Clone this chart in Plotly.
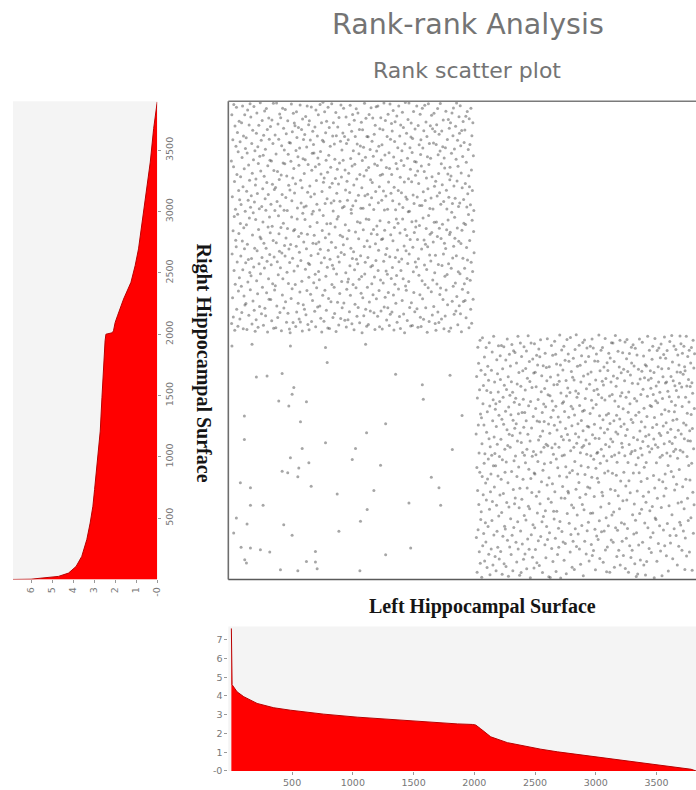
import plotly.graph_objects as go

# ---------------------------------------------------------------------------
# Sorted surface values, left hemisphere (bottom panel): rank -> value
left_rank = [0, 1, 6, 47, 102, 212, 349, 486, 761, 1036, 1310, 1585, 1860,
             1984, 2011, 2052, 2080, 2135, 2272, 2410, 2547, 2684, 2959,
             3234, 3509, 3784, 3825]
left_value = [7.6, 5.3, 4.6, 4.22, 3.96, 3.6, 3.37, 3.24, 3.03, 2.87, 2.74,
              2.62, 2.51, 2.48, 2.45, 2.25, 2.09, 1.82, 1.51, 1.32, 1.16,
              1.02, 0.79, 0.57, 0.36, 0.09, 0.0]

# Sorted surface values, right hemisphere (left panel): rank -> value
right_rank = [0, 2, 10, 25, 52, 106, 188, 325, 460, 597, 733, 869, 1006,
              1210, 1482, 1755, 1946, 2000, 2012, 2028, 2096, 2150, 2287,
              2423, 2559, 2696, 2832, 2968, 3132, 3404, 3677, 3868, 3895]
right_value = [6.9, 6.0, 5.57, 4.7, 4.22, 3.86, 3.59, 3.35, 3.19, 3.06,
               2.98, 2.90, 2.84, 2.71, 2.63, 2.55, 2.48, 2.44, 2.14, 2.08,
               2.0, 1.89, 1.6, 1.25, 1.05, 0.89, 0.78, 0.65, 0.54, 0.33,
               0.17, 0.02, 0.0]

# Rank scatter: right-surface rank of vertices whose left rank is low
upper_right_rank = [
    3412, 2087, 3790, 2655, 3121, 2298, 3587, 2843, 2140, 3366, 3874, 2519, 2961, 3245, 2032, 3698, 2407, 3019, 2766, 3533,
    2714, 3851, 2203, 3302, 2589, 3645, 2978, 2066, 3489, 2352, 3173, 2821, 3736, 2460, 3097, 2125, 3569, 2903, 3284, 2638,
    3058, 2391, 3725, 2177, 3441, 2760, 3862, 2525, 3203, 2044, 3617, 2869, 2312, 3350, 2697, 3789, 2238, 3002, 3514, 2583,
    2251, 3603, 2892, 3167, 2039, 3478, 2734, 3829, 2426, 3092, 2610, 3381, 2155, 3707, 2947, 3255, 2503, 3880, 2362, 3036,
    3771, 2477, 3129, 2618, 3556, 2084, 3313, 2809, 3664, 2271, 2990, 3422, 2549, 3858, 2195, 3079, 2701, 3497, 2025, 3218,
    2936, 3267, 2118, 3640, 2437, 3805, 2680, 3148, 2331, 3529, 2057, 3393, 2855, 3705, 2574, 3023, 2227, 3451, 2792, 3887,
    2493, 3332, 2779, 3581, 2168, 3042, 2625, 3744, 2384, 3186, 2915, 3460, 2073, 3623, 2743, 3289, 2540, 3821, 2212, 3105,
    3508, 2150, 3011, 2702, 3840, 2338, 3237, 2596, 3669, 2019, 3375, 2874, 3139, 2453, 3763, 2285, 3591, 2956, 2651, 3419,
    2827, 3694, 2283, 3061, 2566, 3413, 2109, 3748, 2881, 3224, 2412, 3556, 2764, 3883, 2048, 3336, 2629, 3180, 2360, 3010,
    3624, 2396, 3197, 2053, 3470, 2747, 3886, 2231, 3083, 2592, 3327, 2136, 3715, 2485, 2967, 3590, 2820, 3262, 2676, 3796,
    2177, 3046, 2543, 3766, 2870, 3299, 2029, 3537, 2663, 3140, 2319, 3843, 2452, 3397, 2905, 3680, 2213, 3011, 3503, 2723,
    3391, 2639, 3832, 2264, 3115, 2785, 3636, 2098, 3291, 2505, 3009, 2863, 3742, 2171, 3468, 2414, 3215, 2695, 3564, 2042,
    2586, 3177, 2012, 3559, 2732, 3410, 2291, 3877, 2956, 3088, 2370, 3651, 2620, 3274, 2096, 3802, 2843, 3351, 2515, 3723,
    3152, 2854, 3700, 2406, 3227, 2063, 3498, 2717, 3814, 2181, 3605, 2939, 3030, 2557, 3448, 2252, 3687, 2798, 3379, 2124,
    2669, 3518, 2344, 3870, 2099, 3256, 2601, 3071, 2824, 3669, 2432, 3195, 2027, 3755, 2987, 3431, 2241, 3589, 2753, 3037,
    3311, 2203, 3629, 2936, 3424, 2530, 3776, 2159, 3045, 2698, 3527, 2357, 3861, 2815, 3158, 2080, 3385, 2578, 3709, 2464,
    2037, 3742, 2568, 3209, 2879, 3584, 2326, 3121, 2642, 3853, 2104, 3338, 2981, 3476, 2275, 3655, 2742, 3002, 3547, 2419,
    3479, 2808, 3143, 2188, 3690, 2489, 3365, 2061, 3829, 2738, 3253, 2379, 3060, 2911, 3617, 2223, 3437, 2657, 3789, 2511,
    2752, 3387, 2444, 3013, 2230, 3873, 2694, 3491, 2130, 3306, 2582, 3725, 2018, 3164, 2847, 3583, 2318, 3892, 2968, 3240,
    3569, 2106, 3275, 2623, 3814, 2358, 3067, 2787, 3643, 2473, 3418, 2196, 3736, 2902, 3104, 2547, 3321, 2050, 3851, 2684,
    2292, 3459, 2818, 3686, 2046, 3198, 2612, 3533, 2903, 3362, 2265, 3071, 2751, 3880, 2405, 3232, 2563, 3617, 2137, 3006,
    3725, 2534, 3089, 2384, 3552, 2169, 3428, 2874, 3271, 2707, 3809, 2022, 3619, 2491, 3149, 2940, 3345, 2261, 3690, 2631,
    2960, 3226, 2075, 3767, 2589, 3396, 2332, 3084, 2807, 3573, 2129, 3869, 2666, 3283, 2430, 3503, 2215, 3032, 2795, 3641,
    3418, 2729, 3844, 2255, 3041, 2651, 3612, 2115, 3339, 2892, 3177, 2502, 3771, 2058, 3556, 2367, 3247, 2778, 3092, 2426,
    2118, 3586, 2450, 3312, 2846, 3710, 2183, 3155, 2558, 3868, 2318, 3434, 2701, 3018, 2987, 3655, 2085, 3371, 2617, 3793,
    3048, 2406, 3496, 2673, 3217, 2036, 3745, 2525, 3387, 2244, 3612, 2833, 3089, 2380, 3839, 2612, 3266, 2147, 3552, 2918,
    2574, 3804, 2217, 3133, 2778, 3471, 2448, 3669, 2093, 3302, 2910, 3536, 2640, 3028, 2334, 3728, 2471, 3194, 2013, 3416,
    3668, 2298, 3027, 2853, 3525, 2151, 3290, 2716, 3884, 2492, 3129, 2588, 3444, 2204, 3761, 2939, 3337, 2066, 3613, 2762,
    2383, 3141, 2626, 3610, 2079, 3359, 2935, 3792, 2262, 3055, 2713, 3507, 2190, 3259, 2551, 3847, 2820, 3114, 2411, 3573,
    3237, 2560, 3763, 2321, 3452, 2854, 3018, 2176, 3631, 2467, 3388, 2038, 3705, 2737, 3164, 2601, 3855, 2289, 3495, 2883,
    2814, 3376, 2146, 3862, 2520, 3073, 2685, 3533, 2357, 3202, 2061, 3676, 2925, 3296, 2442, 3765, 2190, 3420, 2773, 3093,
    3546, 2043, 3304, 2778, 3667, 2417, 3169, 2596, 3885, 2223, 3013, 2849, 3462, 2301, 3744, 2650, 3127, 2515, 3359, 2117,
    2699, 3612, 2489, 3020, 2215, 3795, 2341, 3241, 2914, 3480, 2071, 3352, 2632, 3877, 2162, 3590, 2812, 3149, 2455, 3718,
    3303, 2181, 3657, 2544, 3089, 2762, 3824, 2319, 3446, 2035, 3198, 2871, 3571, 2408, 3733, 2626, 3015, 2253, 3392, 2940,
    2480, 3779, 2097, 3349, 2687, 3520, 2906, 3172, 2368, 3861, 2591, 3063, 2144, 3617, 2825, 3280, 2047, 3706, 2519, 3416,
    3154, 2613, 3497, 2276, 3811, 2939, 3034, 2452, 3686, 2165, 3377, 2720, 3242, 2013, 3553, 2855, 3890, 2393, 3119, 2680,
    2358, 3640, 2805, 3101, 2111, 3435, 2577, 3752, 2999, 3268, 2431, 3885, 2654, 3003, 2219, 3520, 2772, 3346, 2068, 3608,
    3722, 2257, 3244, 2918, 3483, 2071, 3597, 2709, 3136, 2510, 3817, 2340, 3067, 2829, 3409, 2184, 3674, 2589, 3297, 2874,
    2923, 3405, 2548, 3861, 2207, 3119, 2773, 3332, 2057, 3702, 2615, 3229, 2482, 3546, 2887, 3050, 2321, 3794, 2139, 3465,
    3587, 2063, 3372, 2695, 3050, 2436, 3843, 2290, 3518, 2947, 3163, 2122, 3659, 2768, 3327, 2564, 3868, 2406, 3090, 2733,
    2216, 3731, 2862, 3275, 2527, 3612, 2016, 3447, 2714, 3186, 2379, 3879, 2968, 3384, 2103, 3555, 2647, 3026, 2815, 3701,
    3436, 2598, 3111, 2347, 3786, 2830, 3285, 2156, 3676, 2442, 3022, 2752, 3559, 2226, 3803, 2913, 3206, 2501, 3653, 2088,
    2645, 3248, 2033, 3548, 2916, 3708, 2409, 3128, 2797, 3840, 2182, 3463, 2568, 3311, 2095, 3630, 2865, 3153, 2324, 3495,
    3881, 2377, 3060, 2780, 3391, 2125, 3658, 2560, 3219, 2897, 3528, 2284, 3748, 2654, 3083, 2044, 3437, 2742, 3355, 2472,
    2148, 3521, 2699, 3819, 2360, 3175, 2853, 3022, 2487, 3589, 2240, 3307, 2931, 3752, 2574, 3118, 2024, 3679, 2813, 3260,
    3361, 2832, 3725, 2051, 3290, 2538, 3475, 2994, 3805, 2268, 3067, 2621, 3619, 2392, 3846, 2717, 3208, 2163, 3511, 2955,
    2783, 3110, 2418, 3696, 2189, 3428, 2641, 3886, 2307, 3250, 2866, 3583, 2077, 3369, 2510, 3041, 2758, 3773, 2233, 3639,
    3070, 2494, 3864, 2168, 3537, 2740, 3315, 2021, 3662, 2849, 3195, 2366, 3449, 2620, 3734, 2267, 3098, 2905, 3563, 2412,
    2539, 3666, 2276, 3229, 2894, 3778, 2135, 3402, 2707, 3037, 2454, 3817, 2606, 3145, 2341, 3506, 2977, 3292, 2052, 3758,
    3203, 2764, 3548, 2441, 3057, 2203, 3843, 2587, 3340, 2089, 3619, 2930, 3172, 2512, 3725, 2286, 3455, 2838, 3010, 2665,
]
upper_left_start, rank_step = 0, 2

# Right-surface rank of vertices whose left rank is high
lower_right_rank = [
    1187, 342, 1655, 913, 58, 1479, 726, 1893, 405, 1260, 1764, 611, 1032, 227, 1548, 874, 1951, 133, 1349, 489,
    1706, 552, 1318, 19, 1107, 839, 1972, 276, 1433, 690, 1581, 374, 1259, 947, 1815, 151, 1026, 1671, 463, 786,
    305, 1892, 648, 1201, 1541, 97, 1368, 820, 1739, 431, 982, 1624, 205, 1147, 1930, 572, 1415, 39, 1082, 715,
    1525, 861, 249, 1707, 1013, 480, 1856, 635, 1294, 118, 1465, 927, 1983, 362, 1162, 755, 1610, 1028, 187, 1389,
    928, 1433, 71, 1248, 605, 1791, 394, 1102, 1677, 263, 844, 1529, 1906, 517, 1339, 167, 1002, 1452, 688, 1824,
    1631, 228, 1144, 817, 1908, 546, 1307, 43, 976, 1719, 352, 1486, 701, 1265, 1897, 129, 1583, 433, 1061, 874,
    412, 1372, 1789, 106, 958, 1550, 627, 1220, 1961, 319, 1093, 788, 1653, 27, 1406, 592, 1185, 1836, 264, 1503,
    1078, 1740, 495, 1343, 203, 1612, 881, 1917, 360, 1174, 1526, 71, 1299, 734, 1865, 423, 968, 1445, 618, 1234,
    1851, 664, 1006, 1478, 303, 1269, 1766, 142, 839, 1595, 1130, 471, 1984, 248, 1352, 917, 1688, 585, 1427, 35,
    743, 1194, 1929, 395, 1576, 57, 1117, 1818, 655, 1362, 290, 1035, 1702, 818, 1470, 164, 1241, 1897, 521, 1013,
    1362, 207, 1545, 951, 1720, 486, 1294, 1863, 87, 1063, 746, 1642, 331, 1184, 1987, 598, 1416, 899, 246, 1777,
    576, 1615, 1130, 13, 1451, 823, 1928, 365, 1236, 709, 1565, 1004, 181, 1797, 447, 1330, 1043, 1684, 94, 868,
    1923, 422, 861, 1689, 244, 1395, 1018, 1571, 679, 1828, 136, 1292, 542, 1749, 963, 1467, 315, 1138, 1880, 716,
    113, 1286, 1817, 618, 1167, 1954, 350, 1040, 1530, 796, 1662, 471, 1361, 57, 1211, 890, 1742, 513, 1432, 1078,
    1289, 943, 1558, 284, 1845, 561, 1409, 178, 1103, 1729, 432, 1620, 771, 1963, 325, 1091, 1506, 659, 1267, 22,
    829, 1735, 380, 1192, 1499, 17, 1651, 954, 1323, 629, 1908, 253, 1074, 1455, 781, 1829, 146, 1381, 1021, 556,
    1587, 493, 1257, 1942, 716, 1104, 336, 1836, 1412, 65, 983, 1757, 557, 1219, 1590, 204, 912, 1668, 1326, 418,
    263, 1078, 1616, 844, 1993, 472, 1285, 1749, 12, 1521, 664, 1166, 1872, 392, 1008, 1437, 758, 1708, 305, 1139,
    1449, 1901, 157, 1015, 1369, 662, 1787, 293, 1231, 919, 1623, 47, 1496, 836, 1958, 539, 1182, 1561, 720, 1838,
    705, 1322, 1780, 459, 1136, 871, 1525, 223, 1974, 1049, 367, 1413, 1697, 608, 1254, 100, 889, 1650, 1393, 312,
    1804, 584, 1078, 1627, 82, 1342, 962, 1876, 414, 1188, 1538, 736, 1995, 268, 1110, 1486, 525, 1739, 860, 1270,
    370, 1517, 1161, 790, 1911, 248, 1418, 669, 1747, 1033, 125, 1610, 927, 1296, 1825, 441, 1079, 612, 1371, 1932,
    1213, 31, 1660, 1093, 569, 1380, 1953, 312, 856, 1475, 1776, 694, 1137, 208, 1556, 1022, 1887, 397, 1249, 754,
    1676, 915, 467, 1819, 1244, 150, 1107, 1592, 745, 1354, 1901, 541, 1008, 1693, 286, 1461, 833, 1962, 195, 1180,
    543, 1399, 1887, 236, 981, 1542, 677, 1266, 1781, 410, 1151, 79, 1627, 907, 1427, 1839, 354, 1029, 1552, 825,
    1037, 1779, 326, 1509, 792, 1994, 1149, 478, 1335, 170, 1702, 947, 1236, 590, 1869, 1063, 389, 1481, 712, 1616,
    1891, 682, 1303, 141, 1585, 1006, 1732, 395, 1196, 868, 1463, 1966, 241, 1101, 1640, 503, 1341, 62, 969, 1768,
    264, 1225, 1704, 884, 439, 1353, 1845, 619, 1082, 1497, 59, 1271, 1806, 736, 1145, 1610, 321, 1931, 1002, 525,
    1508, 866, 1123, 1928, 303, 1660, 550, 1294, 1778, 99, 1016, 1455, 726, 1990, 421, 1203, 1575, 849, 1340, 187,
    956, 1642, 401, 1187, 1862, 683, 1411, 238, 1034, 1733, 577, 1308, 1951, 117, 1496, 804, 1247, 1685, 462, 1110,
    1523, 311, 1078, 1849, 642, 1392, 196, 1715, 874, 1267, 452, 1620, 1008, 1936, 89, 1174, 763, 1486, 337, 1801,
    648, 1958, 1223, 415, 1697, 953, 1364, 59, 1529, 806, 1101, 1842, 276, 1433, 707, 1667, 1025, 180, 1305, 1893,
    1766, 1043, 238, 1601, 527, 1281, 1914, 868, 1157, 370, 1741, 616, 1476, 129, 1052, 1886, 483, 1339, 935, 24,
    381, 1455, 1830, 722, 1139, 44, 1596, 993, 1714, 282, 1363, 871, 1961, 538, 1210, 1634, 159, 1071, 1508, 798,
    1286, 572, 1699, 1015, 1934, 303, 1126, 1552, 679, 1823, 117, 1397, 915, 1645, 460, 1244, 1752, 36, 1168, 629,
    954, 1740, 146, 1329, 823, 1495, 1983, 421, 1086, 1627, 713, 1181, 253, 1870, 1040, 560, 1419, 1702, 344, 1560,
    1641, 219, 1410, 1067, 1795, 596, 1239, 1903, 380, 1509, 848, 1146, 1688, 15, 1320, 746, 1966, 502, 1098, 1457,
    490, 1578, 951, 1264, 149, 1867, 663, 1442, 1078, 1735, 293, 1611, 1887, 814, 1193, 438, 1526, 996, 1808, 232,
    1174, 1920, 587, 1347, 1719, 31, 1014, 1475, 796, 1654, 1252, 404, 1834, 681, 1106, 1977, 274, 1384, 860, 1603,
    1805, 744, 1279, 193, 1610, 1031, 1867, 456, 1198, 1535, 930, 70, 1720, 1371, 601, 1490, 1125, 1941, 358, 1007,
    297, 1226, 1655, 881, 1451, 1989, 528, 1109, 1773, 168, 1298, 1620, 837, 1044, 1905, 413, 1367, 729, 1579, 1160,
    1420, 1062, 1876, 358, 1542, 776, 1307, 1692, 119, 988, 1830, 624, 1217, 1489, 270, 1749, 896, 1600, 467, 1985,
    1053, 1689, 445, 1922, 1186, 632, 1570, 238, 1411, 1844, 757, 1039, 1673, 395, 1276, 1902, 577, 1148, 1734, 82,
    1702, 339, 1486, 818, 1259, 1983, 191, 1577, 1003, 1356, 662, 1818, 1131, 481, 1631, 930, 1448, 1870, 224, 1212,
    812, 1573, 1130, 1766, 504, 1345, 1891, 947, 1604, 76, 1232, 1518, 711, 1950, 376, 1067, 1724, 609, 1395, 1841,
]
lower_left_start = 2015

# Vertices that rank low on both surfaces
sparse_left_rank = [5, 170, 486, 775, 1105, 789, 206, 294, 418, 1352, 1800, 514,
                    500, 1572, 1580, 390, 618, 473, 569, 1270, 107, 107, 1113,
                    775, 583, 1022, 1819, 486, 638, 995, 1228, 418, 555, 464,
                    1646, 1709, 74, 157, 547, 657, 871, 1173, 1462, 1723, 157,
                    261, 1118, 41, 129, 431, 1063, 500, 885, 19, 157, 239, 316,
                    692, 1270, 1476, 110, 124, 618, 692, 706, 404, 547, 1058,
                    1899, 80]
sparse_right_rank = [1905, 1919, 1905, 1892, 1919, 1769, 1652, 1660, 1679, 1674,
                     1666, 1565, 1510, 1587, 1469, 1456, 1450, 1415, 1287, 1270,
                     1333, 1142, 1197, 1115, 1069, 1069, 1060, 992, 951, 979, 932,
                     883, 910, 870, 834, 747, 788, 747, 837, 761, 698, 725, 624,
                     605, 605, 605, 570, 502, 453, 447, 474, 360, 393, 379, 256,
                     243, 224, 229, 202, 256, 161, 134, 147, 142, 87, 79, 71, 71,
                     1338, 262]

rank_ticks = [500, 1000, 1500, 2000, 2500, 3000, 3500]
value_ticks = [0, 1, 2, 3, 4, 5, 6, 7]
value_tick_text = ["-0", "1", "2", "3", "4", "5", "6", "7"]

# ---------------------------------------------------------------------------
# Design grid is 696 x 790; the figure itself is laid out slightly larger
# because the page renders it a little smaller than its nominal size.
GW, GH = 696, 790
W, H = 702, 797


def fx(px):
    return px / GW


def fy(px):
    return 1 - px / GH


upper_left_rank = list(range(upper_left_start,
                             upper_left_start + rank_step * len(upper_right_rank),
                             rank_step))
lower_left_rank = list(range(lower_left_start,
                             lower_left_start + rank_step * len(lower_right_rank),
                             rank_step))

dot = dict(size=3, color="rgba(60,60,60,0.46)", line=dict(width=0))
tick_font = dict(family="DejaVu Sans, sans-serif", size=9.5, color="#777777")

fig = go.Figure()

for xs, ys in [(upper_left_rank, upper_right_rank),
               (lower_left_rank, lower_right_rank),
               (sparse_left_rank, sparse_right_rank)]:
    fig.add_trace(go.Scatter(x=xs, y=ys, mode="markers", marker=dot,
                             xaxis="x", yaxis="y", showlegend=False,
                             hoverinfo="skip"))

# left-hemisphere value profile (bottom)
fig.add_trace(go.Scatter(x=left_rank, y=left_value, mode="lines",
                         line=dict(color="#b80000", width=1),
                         fill="tozeroy", fillcolor="#ff0000",
                         xaxis="x2", yaxis="y2", showlegend=False))

# right-hemisphere value profile (left, rotated)
fig.add_trace(go.Scatter(x=right_value, y=right_rank, mode="lines",
                         line=dict(color="#b80000", width=1),
                         fill="tozerox", fillcolor="#ff0000",
                         xaxis="x3", yaxis="y3", showlegend=False))

scatter_dom_y = [fy(578), fy(101)]

fig.update_layout(
    width=W, height=H,
    margin=dict(l=0, r=0, t=0, b=0),
    paper_bgcolor="white", plot_bgcolor="rgba(0,0,0,0)",
    xaxis=dict(domain=[fx(228), 1], range=[-25, 3833], anchor="y",
               showgrid=False, zeroline=False, showticklabels=False,
               ticks=""),
    yaxis=dict(domain=scatter_dom_y, range=[0, 3900], anchor="x",
               showgrid=False, zeroline=False, showticklabels=False,
               ticks=""),
    xaxis2=dict(domain=[fx(228), 1], range=[-25, 3833], anchor="y2",
                showgrid=False, zeroline=False, tickvals=rank_ticks,
                ticks="outside", ticklen=3, tickcolor="#999999",
                tickfont=tick_font),
    yaxis2=dict(domain=[fy(769), fy(625)], range=[0, 7.7], anchor="x2",
                showgrid=False, zeroline=False, tickvals=value_ticks,
                ticktext=value_tick_text, ticks="outside", ticklen=3,
                tickcolor="#999999", tickfont=tick_font),
    xaxis3=dict(domain=[fx(13), fx(157)], range=[6.86, 0], anchor="y3",
                showgrid=False, zeroline=False, tickvals=value_ticks[:7],
                ticktext=value_tick_text[:7], tickangle=-90,
                ticks="outside", ticklen=3, tickcolor="#999999",
                tickfont=tick_font),
    yaxis3=dict(domain=scatter_dom_y, range=[0, 3900], anchor="x3",
                side="right", showgrid=False, zeroline=False,
                tickvals=rank_ticks, tickangle=-90, ticks="outside",
                ticklen=3, tickcolor="#999999", tickfont=tick_font),
)

# grey backgrounds of the two profile panels
for xr, yr in [("x2 domain", "y2 domain"), ("x3 domain", "y3 domain")]:
    fig.add_shape(type="rect", xref=xr, yref=yr, x0=0, x1=1, y0=0, y1=1,
                  fillcolor="#f4f4f4", line=dict(width=0), layer="below")

# frame of the rank scatter
fig.add_shape(type="line", xref="x domain", yref="y domain", x0=0, x1=0,
              y0=0, y1=1, line=dict(color="#6e6e6e", width=1.6))
fig.add_shape(type="line", xref="x domain", yref="y domain", x0=0, x1=1,
              y0=1, y1=1, line=dict(color="#7a7a7a", width=1.4))
fig.add_shape(type="line", xref="x domain", yref="y domain", x0=0, x1=1,
              y0=0, y1=0, line=dict(color="#5a5a5a", width=1.4))

title_font = "DejaVu Sans, sans-serif"
label_font = "Liberation Serif, Times New Roman, serif"
fig.add_annotation(text="Rank-rank Analysis", x=fx(467), y=fy(24),
                   xref="paper", yref="paper", showarrow=False,
                   xanchor="center", yanchor="middle",
                   font=dict(family=title_font, size=28.5, color="#747474"))
fig.add_annotation(text="Rank scatter plot", x=fx(466), y=fy(70),
                   xref="paper", yref="paper", showarrow=False,
                   xanchor="center", yanchor="middle",
                   font=dict(family=title_font, size=22, color="#747474"))
fig.add_annotation(text="<b>Left Hippocampal Surface</b>", x=fx(482), y=fy(605),
                   xref="paper", yref="paper", showarrow=False,
                   xanchor="center", yanchor="middle",
                   font=dict(family=label_font, size=20, color="#151515"))
fig.add_annotation(text="<b>Right Hippocampal Surface</b>", x=fx(203), y=fy(362),
                   xref="paper", yref="paper", showarrow=False, textangle=90,
                   xanchor="center", yanchor="middle",
                   font=dict(family=label_font, size=20, color="#151515"))

# keep the page free of body margins and scrollbars
page_fix = ("document.body.style.margin='0';"
            "document.body.style.overflow='hidden';"
            "document.documentElement.style.overflow='hidden';")

fig.write_html("out.html", post_script=page_fix)
